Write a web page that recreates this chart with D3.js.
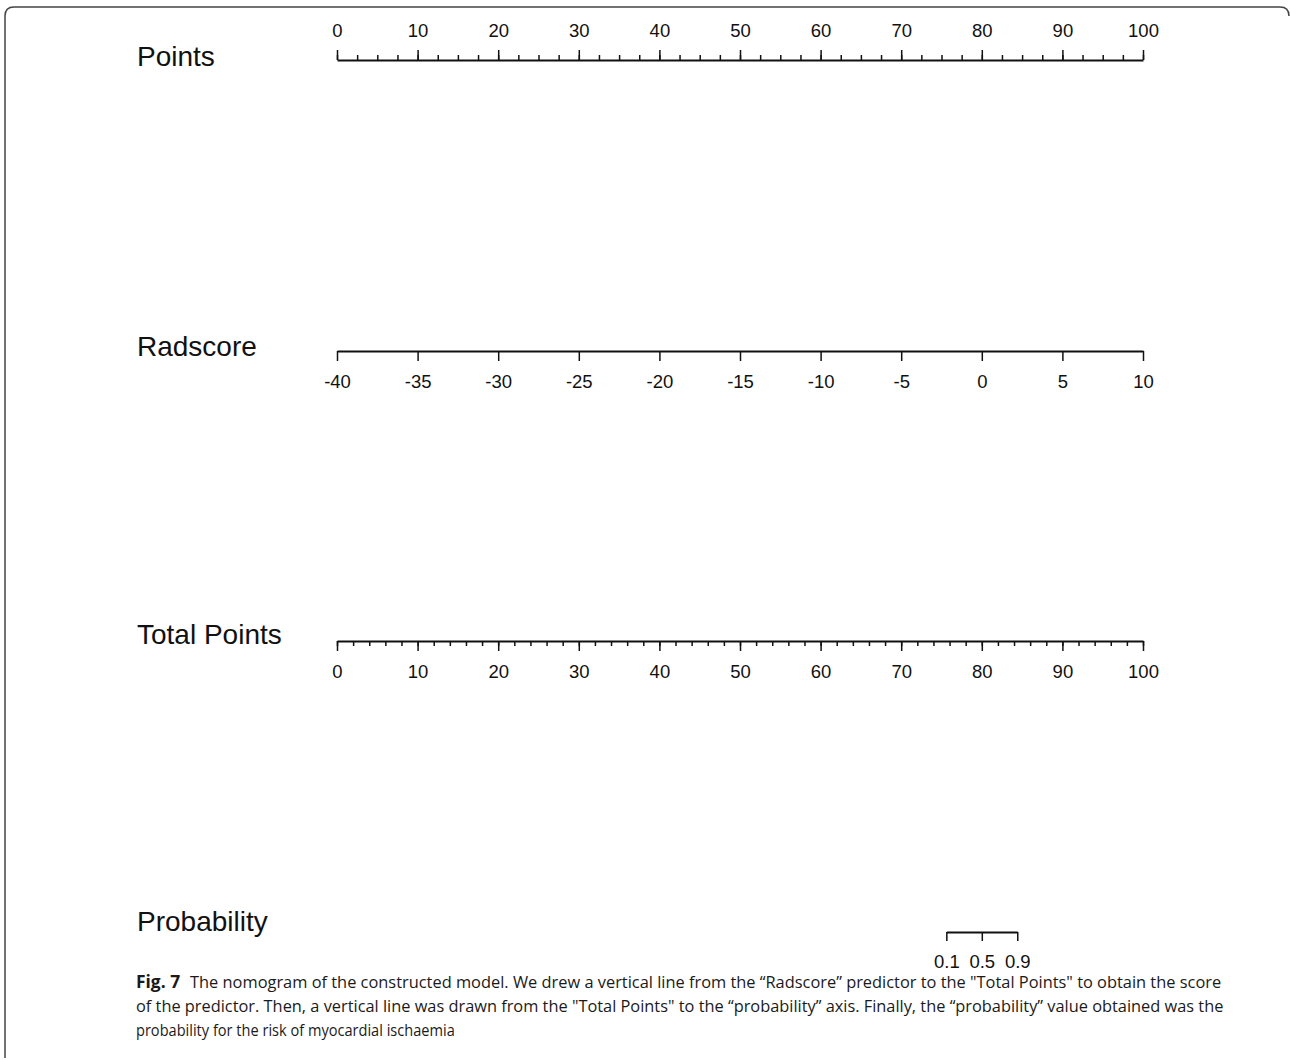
<!DOCTYPE html>
<html>
<head>
<meta charset="utf-8">
<script src="https://cdn.jsdelivr.net/npm/d3@7"></script>
<style>
  body { margin: 0; background: #fff; }
  svg text { font-family: "Liberation Sans", Arial, sans-serif; fill: #111; }
  svg .cap text { font-family: "Open Sans", "Noto Sans", sans-serif; font-size: 16.5px; fill: #1a1a1a; }
</style>
</head>
<body>
<div id="central-container"></div>
<script>
// the nomogram scales
var pointsTicks = [0, 10, 20, 30, 40, 50, 60, 70, 80, 90, 100]
var pointsMinor = d3.range(0, 100.01, 2.5)
var radscoreTicks = [-40, -35, -30, -25, -20, -15, -10, -5, 0, 5, 10]
var totalTicks = [0, 10, 20, 30, 40, 50, 60, 70, 80, 90, 100]
var totalMinor = d3.range(0, 100.01, 2)
var probTicks = [0.1, 0.5, 0.9]
var probAtTotal = [75.6, 80.0, 84.4]   // total points where each probability sits
var rowLabels = ["Points", "Radscore", "Total Points", "Probability"]

var captionLines = [
  "The nomogram of the constructed model. We drew a vertical line from the \u201cRadscore\u201d predictor to the \"Total Points\" to obtain the score",
  "of the predictor. Then, a vertical line was drawn from the \"Total Points\" to the \u201cprobability\u201d axis. Finally, the \u201cprobability\u201d value obtained was the",
  "probability for the risk of myocardial ischaemia"
]

var width = 1290
var height = 1060

var svg = d3.select("#central-container")
  .append("svg")
    .attr("width", width)
    .attr("height", height)

// frame round the figure
svg.append("path")
  .attr("d", "M5,1058 L5,16 Q5,7 14,7 L1280,7 Q1289,7 1289,16")
  .attr("fill", "none")
  .attr("stroke", "#444")
  .attr("stroke-width", 1.5)

var x = d3.scaleLinear().domain([0, 100]).range([337, 1143])
var xRad = d3.scaleLinear().domain([-40, 10]).range([337, 1143])

var rowY = [56, 346, 634, 921]
svg.selectAll(".rowlab")
  .data(rowLabels)
  .enter().append("text")
    .attr("x", 137)
    .attr("y", function(d, i){ return rowY[i] })
    .attr("dy", "0.36em")
    .style("font-size", "28px")
    .text(function(d){ return d })

function styleAxis(g) {
  g.selectAll("path, line").attr("stroke", "#111").attr("stroke-width", 1.5)
  g.select(".domain").attr("stroke-width", 1.8)
  g.selectAll("text").style("font-size", "18.5px").style("font-family", "Liberation Sans, Arial, sans-serif").attr("fill", "#111")
}

// Points (ticks up)
var gP = svg.append("g").attr("transform", "translate(0,60)")
gP.call(d3.axisTop(x).tickValues(pointsMinor).tickSize(5).tickSizeOuter(0).tickFormat(""))
gP.append("g").call(d3.axisTop(x).tickValues(pointsTicks).tickSize(10).tickSizeOuter(0).tickPadding(13))
gP.selectAll(".domain").filter(function(d, i){ return i > 0 }).remove()
styleAxis(gP)

// Radscore
var gR = svg.append("g").attr("transform", "translate(0,351)")
gR.call(d3.axisBottom(xRad).tickValues(radscoreTicks).tickSize(10).tickSizeOuter(0).tickPadding(14)
  .tickFormat(function(d){ return String(d).replace("\u2212", "-") }))
styleAxis(gR)

// Total Points
var gT = svg.append("g").attr("transform", "translate(0,641)")
gT.call(d3.axisBottom(x).tickValues(totalMinor).tickSize(5).tickSizeOuter(0).tickFormat(""))
gT.append("g").call(d3.axisBottom(x).tickValues(totalTicks).tickSize(10).tickSizeOuter(0).tickPadding(14))
gT.selectAll(".domain").filter(function(d, i){ return i > 0 }).remove()
styleAxis(gT)

// Probability
var gPr = svg.append("g").attr("transform", "translate(0,932)")
gPr.call(d3.axisBottom(d3.scaleLinear().domain([probAtTotal[0], probAtTotal[2]]).range([x(probAtTotal[0]), x(probAtTotal[2])]))
  .tickValues(probAtTotal).tickSize(9).tickSizeOuter(0).tickPadding(14)
  .tickFormat(function(d, i){ return probTicks[i] }))
styleAxis(gPr)

// caption
var cap = svg.append("g").attr("class", "cap")
var first = cap.append("text").attr("x", 136).attr("y", 988)
first.append("tspan").style("font-weight", "bold").style("font-size", "17.5px").text("Fig. 7")
first.append("tspan").attr("dx", 10).text(captionLines[0])
cap.append("text").attr("x", 136).attr("y", 1012).text(captionLines[1])
cap.append("text").attr("x", 136).attr("y", 1036).text(captionLines[2])

// fit each caption line to the width it has in the printed figure
var wantEnd = [1222, 1224, 455]
cap.selectAll("text").each(function(d, i){
  var bb = this.getBBox()
  var scale = (wantEnd[i] - 136) / bb.width
  d3.select(this).attr("transform", "translate(136,0) scale(" + scale + ",1) translate(-136,0)")
})
</script>
</body>
</html>
